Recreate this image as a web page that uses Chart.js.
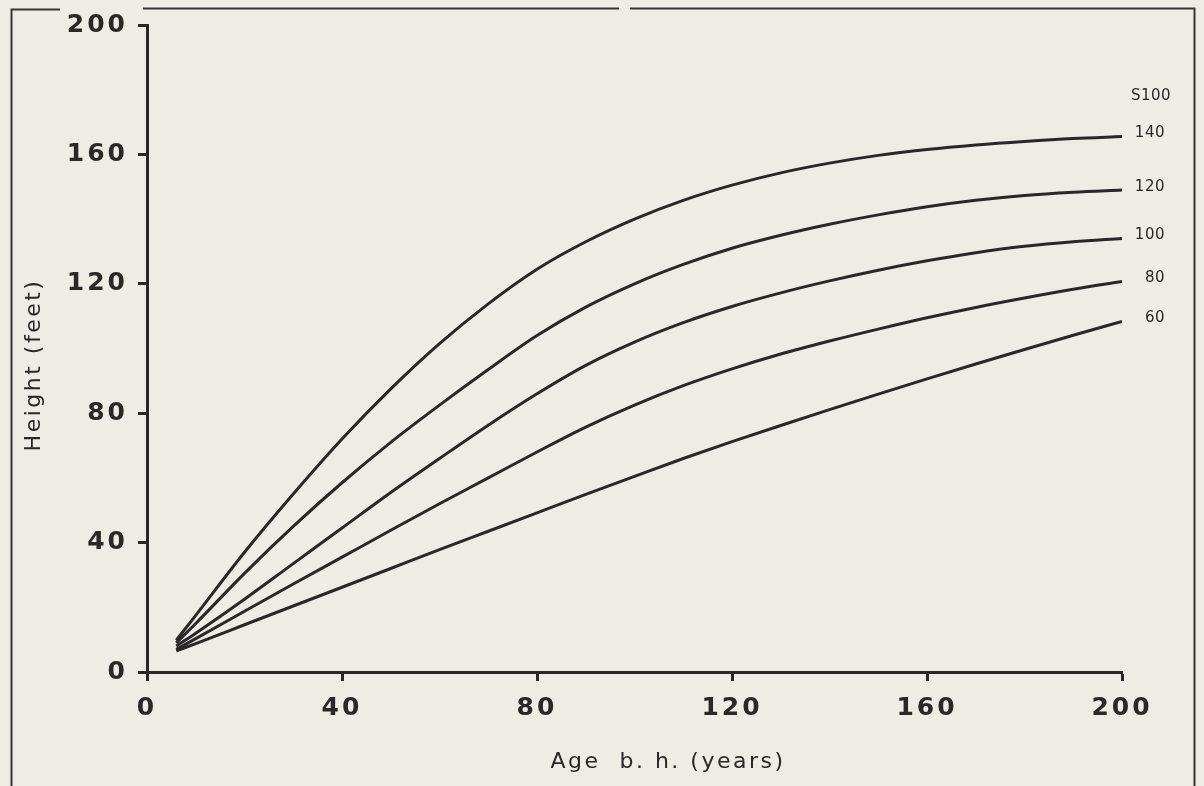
<!DOCTYPE html>
<html>
<head>
<meta charset="utf-8">
<script src="https://cdn.jsdelivr.net/npm/chart.js@4.4.1/dist/chart.umd.min.js"></script>
<style>
  html, body { margin: 0; padding: 0; background: rgb(237,237,229); }
  #wrap { width: 1204px; height: 786px; }
</style>
</head>
<body>
<div id="wrap"><canvas id="c" width="1204" height="786"></canvas></div>
<script>
// ---- data ----
const ages = [6, 10, 20, 30, 40, 50, 60, 70, 80, 90, 100, 110, 120, 130, 140, 150, 160, 170, 180, 190, 200];
const si140 = [9.8, 17.5, 37, 55, 72, 87.5, 101.5, 113.8, 124.5, 133, 140, 145.8, 150.5, 154.3, 157.3, 159.7, 161.5, 162.9, 164, 164.9, 165.5];
const si120 = [9, 15, 30.5, 45, 58.5, 71, 82.5, 93.5, 104, 112.8, 120, 126, 131, 135, 138.4, 141.3, 143.8, 145.8, 147.3, 148.3, 149];
const si100 = [8, 12, 22.5, 33.5, 44.5, 55.5, 66, 76.3, 86, 94.8, 102, 108, 113, 117.2, 120.9, 124.2, 127.1, 129.6, 131.6, 133, 134];
const si80  = [7, 10.3, 18.8, 27.2, 35.5, 43.8, 52, 60, 68, 75.7, 82.5, 88.5, 93.7, 98.3, 102.3, 106, 109.5, 112.7, 115.6, 118.3, 120.7];
const si60  = [6.5, 8.8, 14.6, 20.4, 26.2, 32, 37.8, 43.5, 49.2, 54.9, 60.5, 66, 71.2, 76.2, 81.1, 85.9, 90.6, 95.2, 99.7, 104.1, 108.4];
const curveLabels = ['140', '120', '100', '80', '60'];
const seriesList = [si140, si120, si100, si80, si60];
const xTicks = [0, 40, 80, 120, 160, 200];
const yTicks = [0, 40, 80, 120, 160, 200];
const legendTitle = 'S100';
const xTitle = 'Age  b. h. (years)';
const yTitle = 'Height (feet)';

const INK = '#2b2727';
const BG = 'rgb(237,237,229)';

const datasets = seriesList.map((s, i) => ({
  label: curveLabels[i],
  data: ages.map((a, j) => ({ x: a, y: s[j] })),
  borderColor: INK,
  borderWidth: 3,
  pointRadius: 0,
  fill: false,
  cubicInterpolationMode: 'monotone'
}));

const decor = {
  id: 'decor',
  beforeDraw(chart) {
    const ctx = chart.ctx;
    ctx.save();
    ctx.fillStyle = BG;
    ctx.fillRect(0, 0, chart.width, chart.height);
    ctx.strokeStyle = '#3a3636';
    ctx.lineWidth = 2;
    ctx.beginPath();
    ctx.moveTo(11.5, 786); ctx.lineTo(11.5, 9.5); ctx.lineTo(60, 9.5);
    ctx.moveTo(143, 8.5); ctx.lineTo(619, 8.5);
    ctx.moveTo(630, 8.5); ctx.lineTo(1194.5, 8.5); ctx.lineTo(1194.5, 786);
    ctx.stroke();
    ctx.restore();
    ctx.letterSpacing = '3px';
  },
  beforeDatasetsDraw(chart) {
    chart.ctx.letterSpacing = '0px';
  },
  afterDraw(chart) {
    const ctx = chart.ctx;
    ctx.save();
    ctx.fillStyle = INK;
    // curve labels at right
    ctx.font = '15px "DejaVu Sans"';
    ctx.letterSpacing = '0.5px';
    ctx.textBaseline = 'middle';
    ctx.textAlign = 'left';
    ctx.fillText(legendTitle, 1131, 96);
    ctx.textAlign = 'right';
    chart.data.datasets.forEach((ds, i) => {
      const meta = chart.getDatasetMeta(i);
      const pt = meta.data[meta.data.length - 1];
      ctx.fillText(ds.label, 1165, pt.y - 3);
    });
    // axis titles
    ctx.font = '22px "DejaVu Sans"';
    ctx.letterSpacing = '2.5px';
    ctx.textAlign = 'center';
    ctx.fillText(xTitle, 668, 762);
    ctx.translate(34, 365);
    ctx.rotate(-Math.PI / 2);
    ctx.fillText(yTitle, 0, 0);
    ctx.restore();
  }
};

new Chart(document.getElementById('c'), {
  type: 'line',
  data: { datasets },
  options: {
    responsive: false,
    devicePixelRatio: 1,
    animation: false,
    events: [],
    layout: { padding: { left: 12, top: 22, right: 82, bottom: 0 } },
    plugins: { legend: { display: false }, tooltip: { enabled: false } },
    scales: {
      x: {
        type: 'linear', min: 0, max: 200,
        afterBuildTicks: (s) => { s.ticks = xTicks.map(v => ({ value: v })); },
        afterFit: (s) => { s.height = 114; },
        ticks: { color: INK, padding: 12, font: { family: 'DejaVu Sans', weight: 'bold', size: 25 } },
        grid: { drawOnChartArea: false, drawTicks: true, tickLength: 9, tickColor: INK, tickWidth: 3 },
        border: { display: true, color: INK, width: 3 }
      },
      y: {
        type: 'linear', min: 0, max: 200,
        afterBuildTicks: (s) => { s.ticks = yTicks.map(v => ({ value: v })); },
        afterFit: (s) => { s.width = 135; },
        ticks: { color: INK, padding: 10, font: { family: 'DejaVu Sans', weight: 'bold', size: 25 } },
        grid: { drawOnChartArea: false, drawTicks: true, tickLength: 9, tickColor: INK, tickWidth: 3 },
        border: { display: true, color: INK, width: 3 }
      }
    }
  },
  plugins: [decor]
});
</script>
</body>
</html>
